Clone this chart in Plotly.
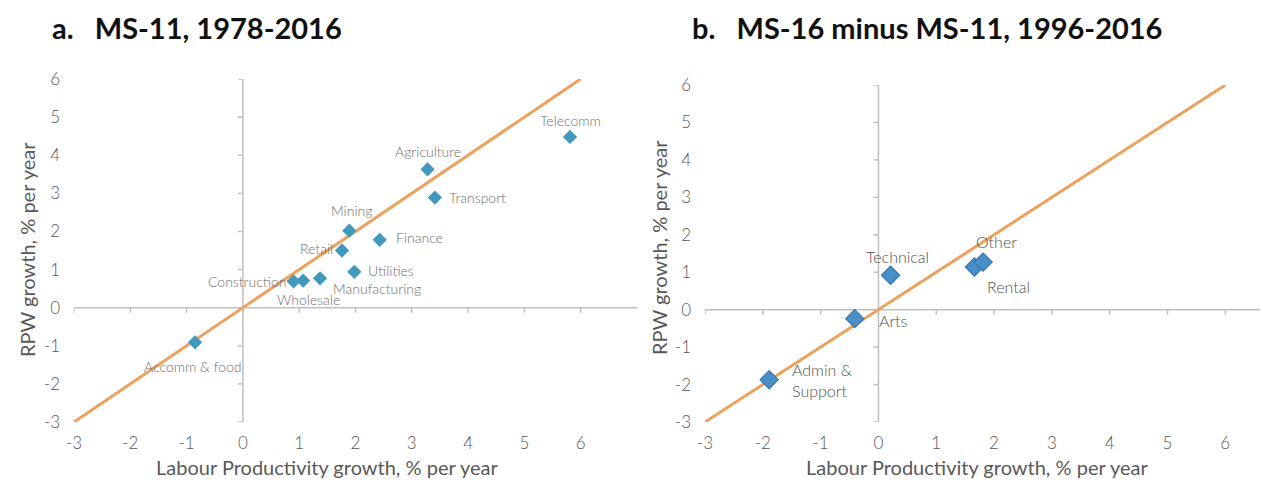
import plotly.graph_objects as go

W, H = 1263, 480

# ---------------- data ----------------
a_names = ["Telecomm", "Agriculture", "Transport", "Mining", "Finance", "Retail",
           "Utilities", "Construction", "Wholesale", "Manufacturing", "Accomm & food"]
a_lp = [5.81, 3.28, 3.41, 1.89, 2.43, 1.76, 1.98, 0.90, 1.07, 1.37, -0.85]
a_rpw = [4.48, 3.63, 2.89, 2.02, 1.78, 1.50, 0.94, 0.69, 0.71, 0.77, -0.91]

b_names = ["Technical", "Arts", "Admin &<br>Support", "Rental", "Other"]
b_lp = [0.21, -0.41, -1.89, 1.66, 1.81]
b_rpw = [0.92, -0.24, -1.87, 1.14, 1.27]

line_ends = [-3, 6]          # 45-degree reference line
tick_vals = [-3, -2, -1, 0, 1, 2, 3, 4, 5, 6]

title_a = "a.   MS-11, 1978-2016"
title_b = "b.   MS-16 minus MS-11, 1996-2016"
x_title = "Labour Productivity growth, % per year"
y_title = "RPW growth, % per year"

# label offsets (style only, px)
a_shift = {
    "Telecomm": (0, 16, "center"), "Agriculture": (0, 18, "center"),
    "Transport": (12, 0, "left"), "Mining": (2, 20, "center"),
    "Finance": (14, 2, "left"), "Retail": (-7, 2, "right"),
    "Utilities": (12, 1, "left"), "Construction": (-5, 0, "right"),
    "Wholesale": (5, -19, "center"), "Manufacturing": (11, -10, "left"),
    "Accomm & food": (-3, -24, "center"),
}
b_shift = {
    "Technical": (7, 19, "center"), "Arts": (22, -2, "left"),
    "Admin &<br>Support": (21, 0, "left"), "Rental": (11, -20, "left"),
    "Other": (-9, 21, "left"),
}

ORANGE = "#EDA15C"
AXIS = "#BFBFBF"
TXT = "#595959"
FONT = "Lato"

fig = go.Figure()

def px_x(p):
    return p / W

def px_y(p):
    return 1 - p / H

dom = {
    "a": dict(x=[px_x(74), px_x(637)], y=[px_y(422), px_y(79)], xr=[-3, 7]),
    "b": dict(x=[px_x(705), px_x(1260)], y=[px_y(422), px_y(85)], xr=[-3, 6.6]),
}

fig.add_trace(go.Scatter(x=line_ends, y=line_ends, mode="lines",
                         line=dict(color=ORANGE, width=3), xaxis="x", yaxis="y",
                         hoverinfo="skip", showlegend=False))
fig.add_trace(go.Scatter(x=a_lp, y=a_rpw, mode="markers", text=a_names,
                         marker=dict(symbol="diamond", size=11, color="#4299BC",
                                     line=dict(width=0)),
                         xaxis="x", yaxis="y", showlegend=False))
fig.add_trace(go.Scatter(x=line_ends, y=line_ends, mode="lines",
                         line=dict(color=ORANGE, width=3), xaxis="x2", yaxis="y2",
                         hoverinfo="skip", showlegend=False))
fig.add_trace(go.Scatter(x=b_lp, y=b_rpw, mode="markers", text=b_names,
                         marker=dict(symbol="diamond", size=14, color="#4A8FC8",
                                     line=dict(width=1.2, color="#3577B0")),
                         xaxis="x2", yaxis="y2", showlegend=False))

shapes = []
annotations = []

for key, xa, ya in [("a", "x", "y"), ("b", "x2", "y2")]:
    d = dom[key]
    shapes.append(dict(type="line", xref=xa, yref=ya, x0=-3, x1=d["xr"][1], y0=0, y1=0,
                       line=dict(color=AXIS, width=1.5), layer="below"))
    shapes.append(dict(type="line", xref=xa, yref=ya, x0=0, x1=0, y0=-3, y1=6,
                       line=dict(color=AXIS, width=1.5), layer="below"))
    for t in tick_vals:
        shapes.append(dict(type="line", xref=xa, yref=ya, ysizemode="pixel", yanchor=0,
                           x0=t, x1=t, y0=0, y1=-5,
                           line=dict(color=AXIS, width=1.5), layer="below"))
        shapes.append(dict(type="line", xref=xa, yref=ya, xsizemode="pixel", xanchor=0,
                           x0=0, x1=-5, y0=t, y1=t,
                           line=dict(color=AXIS, width=1.5), layer="below"))

for n, x, y in zip(a_names, a_lp, a_rpw):
    dx, dy, al = a_shift[n]
    annotations.append(dict(x=x, y=y, xref="x", yref="y", text=n, showarrow=False,
                            xshift=dx, yshift=dy, xanchor=al,
                            font=dict(family=FONT, size=14, color="#6E6E6E", weight=300)))
for n, x, y in zip(b_names, b_lp, b_rpw):
    dx, dy, al = b_shift[n]
    annotations.append(dict(x=x, y=y, xref="x2", yref="y2", text=n, showarrow=False,
                            xshift=dx, yshift=dy, xanchor=al, align="left",
                            font=dict(family=FONT, size=16, color="#505050", weight=300)))

annotations.append(dict(x=px_x(50), y=px_y(27), xref="paper", yref="paper", text="<b>" + title_a + "</b>",
                        showarrow=False, xanchor="left", yanchor="middle",
                        font=dict(family=FONT, size=29, color="#111111")))
annotations.append(dict(x=px_x(690), y=px_y(27), xref="paper", yref="paper", text="<b>" + title_b + "</b>",
                        showarrow=False, xanchor="left", yanchor="middle",
                        font=dict(family=FONT, size=29, color="#111111")))
for cx, cy in [(327, 467), (977, 467)]:
    annotations.append(dict(x=px_x(cx), y=px_y(cy), xref="paper", yref="paper", text=x_title,
                            showarrow=False, xanchor="center", yanchor="middle",
                            font=dict(family=FONT, size=20, color=TXT)))
for cx, cy in [(27, 250), (659, 248)]:
    annotations.append(dict(x=px_x(cx), y=px_y(cy), xref="paper", yref="paper", text=y_title,
                            showarrow=False, xanchor="center", yanchor="middle", textangle=-90,
                            font=dict(family=FONT, size=20, color=TXT)))

axis_common = dict(showgrid=False, zeroline=False, showline=False, ticks="",
                   automargin=False,
                   tickvals=tick_vals, ticktext=[str(v) for v in tick_vals],
                   tickfont=dict(family=FONT, size=17, color=TXT, weight=300), fixedrange=True)

fig.update_layout(
    width=W, height=H,
    autosize=False,
    margin=dict(l=0, r=0, t=0, b=0, pad=0, autoexpand=False),
    paper_bgcolor="white", plot_bgcolor="white",
    xaxis=dict(domain=dom["a"]["x"], range=dom["a"]["xr"], anchor="y",
               ticklabelstandoff=9, **axis_common),
    yaxis=dict(domain=dom["a"]["y"], range=[-3, 6], anchor="x",
               ticklabelstandoff=13, **axis_common),
    xaxis2=dict(domain=dom["b"]["x"], range=dom["b"]["xr"], anchor="y2",
                ticklabelstandoff=9, **axis_common),
    yaxis2=dict(domain=dom["b"]["y"], range=[-3, 6], anchor="x2",
                ticklabelstandoff=13, **axis_common),
    shapes=shapes, annotations=annotations,
    showlegend=False,
)

fig.write_html("out.html", config={"responsive": False, "displayModeBar": False},
               post_script="document.body.style.margin='0';document.body.style.overflow='hidden';")
